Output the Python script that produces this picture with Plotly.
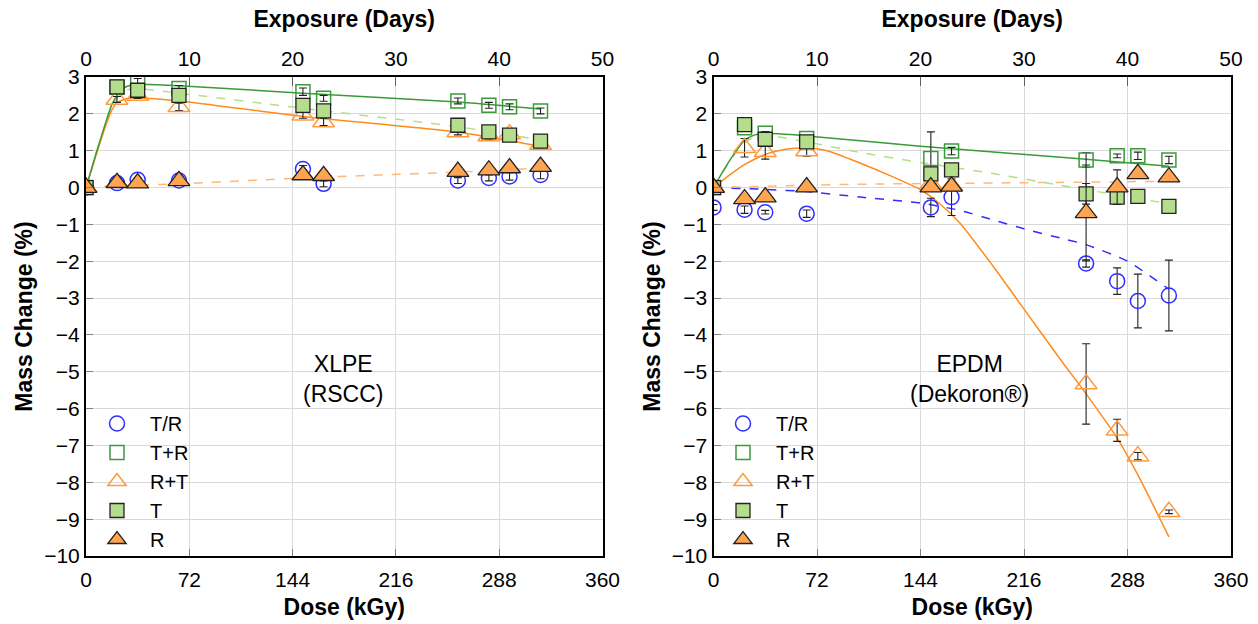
import plotly.graph_objects as go

# Sampling times (days of exposure); dose rate 7.2 kGy per day
days = [0, 3, 5, 9, 21, 23, 36, 39, 41, 44]
DOSE_RATE = 7.2

# ---------------- XLPE (RSCC) ----------------
xlpe_TR = [0, 0.12, 0.21, 0.19, 0.50, 0.10, 0.19, 0.26, 0.30, 0.34]
xlpe_TR_err = [0.03, 0.05, 0.05, 0.05, 0.10, 0.08, 0.08, 0.08, 0.10, 0.10]
xlpe_TpR = [0, 2.72, 2.86, 2.69, 2.60, 2.42, 2.35, 2.23, 2.19, 2.08]
xlpe_TpR_err = [0.03, 0.08, 0.10, 0.08, 0.10, 0.08, 0.08, 0.08, 0.08, 0.08]
xlpe_RpT = [0, 2.39, 2.50, 2.19, 1.96, 1.78, 1.51, 1.40, 1.45, 1.16]
xlpe_RpT_err = [0.03, 0.08, 0.08, 0.10, 0.08, 0.10, 0.08, 0.08, 0.08, 0.08]
xlpe_T = [0, 2.73, 2.64, 2.50, 2.23, 2.08, 1.69, 1.51, 1.42, 1.26]
xlpe_T_err = [0.03, 0.15, 0.15, 0.15, 0.18, 0.15, 0.15, 0.12, 0.12, 0.12]
xlpe_R = [0, 0.13, 0.12, 0.18, 0.34, 0.32, 0.43, 0.47, 0.53, 0.57]
xlpe_R_err = [0.03, 0.08, 0.08, 0.08, 0.08, 0.08, 0.08, 0.08, 0.08, 0.08]

# fitted trend curves (day, value)
xlpe_fit_TpR_days = [0, 1, 2, 2.5, 3, 3.5, 4, 5, 9, 21, 36, 44]
xlpe_fit_TpR = [0, 0.95, 1.85, 2.25, 2.50, 2.67, 2.75, 2.80, 2.76, 2.56, 2.32, 2.13]
xlpe_fit_T_days = [0, 1, 2, 2.5, 3, 3.5, 4, 5, 9, 21, 36, 44]
xlpe_fit_T = [0, 0.92, 1.80, 2.18, 2.42, 2.58, 2.65, 2.68, 2.56, 2.15, 1.65, 1.29]
xlpe_fit_RpT_days = [0, 1, 2, 2.5, 3, 4, 5, 9, 21, 36, 44]
xlpe_fit_RpT = [0, 0.90, 1.75, 2.10, 2.30, 2.42, 2.43, 2.35, 1.93, 1.50, 1.12]
xlpe_fit_R_days = [0, 3, 9, 21, 36, 44]
xlpe_fit_R = [0, 0.05, 0.10, 0.26, 0.42, 0.53]

# ---------------- EPDM (Dekoron) ----------------
epdm_TR = [-0.54, -0.60, -0.67, -0.71, -0.54, -0.26, -2.06, -2.54, -3.08, -2.93]
epdm_TR_err = [0.08, 0.10, 0.05, 0.10, 0.25, 0.50, 0.10, 0.36, 0.73, 0.96]
epdm_TpR = [0, 1.62, 1.47, 1.33, 0.79, 0.99, 0.75, 0.86, 0.86, 0.75]
epdm_TpR_err = [0.03, 0.05, 0.05, 0.05, 0.72, 0.10, 0.20, 0.05, 0.10, 0.10]
epdm_RpT = [0, 1.08, 0.97, 0.99, 0.10, 0.05, -5.33, -6.59, -7.29, -8.80]
epdm_RpT_err = [0.03, 0.25, 0.20, 0.14, 0.10, 0.10, 1.09, 0.30, 0.10, 0.05]
epdm_T = [0, 1.71, 1.31, 1.24, 0.37, 0.48, -0.17, -0.26, -0.24, -0.51]
epdm_T_err = [0.03, 0.10, 0.13, 0.12, 0.15, 0.15, 0.28, 0.12, 0.10, 0.05]
epdm_R = [0, -0.31, -0.26, 0.01, 0.01, 0.03, -0.69, 0.01, 0.37, 0.28]
epdm_R_err = [0.03, 0.10, 0.10, 0.05, 0.10, 0.10, 1.30, 0.47, 0.10, 0.10]

epdm_fit_TpR_days = [0, 1, 2, 3, 4, 5, 9, 20, 35.4, 44]
epdm_fit_TpR = [0, 0.48, 0.92, 1.28, 1.43, 1.47, 1.40, 1.12, 0.78, 0.58]
epdm_fit_T_days = [0, 1, 2, 3, 4, 5, 9, 14.2, 20, 27, 33.5, 44]
epdm_fit_T = [0, 0.46, 0.88, 1.22, 1.38, 1.42, 1.24, 0.95, 0.68, 0.38, 0.06, -0.44]
epdm_fit_RpT_days = [0, 1, 2, 3, 5, 7, 9, 11, 14.2, 17, 20, 21.6, 23.8, 27, 30,
                     33.5, 36, 39, 41, 44]
epdm_fit_RpT = [0, 0.22, 0.43, 0.62, 0.90, 1.04, 1.08, 1.00, 0.66, 0.33, -0.06,
                -0.38, -0.96, -2.13, -3.30, -4.66, -5.60, -6.80, -7.80, -9.48]
epdm_fit_R_days = [0, 9, 14.2, 33.5, 44]
epdm_fit_R = [0, 0.06, 0.09, 0.14, 0.17]
epdm_fit_TR_days = [0, 5, 9, 14.2, 20, 23.8, 27, 30, 33.5, 36, 40, 44]
epdm_fit_TR = [0, -0.05, -0.11, -0.26, -0.42, -0.62, -0.88, -1.12, -1.37, -1.55,
               -2.00, -2.76]

dose_ticks = [0, 72, 144, 216, 288, 360]
day_ticks = [0, 10, 20, 30, 40, 50]

FONT = "Arial, Liberation Sans, sans-serif"
BLUE = "#2f2fff"
GREEN = "#3a9a3a"
LIGHTGREEN = "#b4de8c"
ORANGE = "#ff9a3c"
ORANGE_FILL = "#ffa552"
ORANGE_LINE = "#ff8c1a"
ORANGE_DASH = "#ffb877"


def to_dose(ds):
    return [d * DOSE_RATE for d in ds]


fig = go.Figure()


def add_fit(xs, ys, color, dash, xa, ya, width=1.5):
    fig.add_trace(go.Scatter(
        x=to_dose(xs), y=ys, mode="lines", xaxis=xa, yaxis=ya, showlegend=False,
        line=dict(color=color, width=width, dash=dash, shape="spline", smoothing=0.6),
        hoverinfo="skip"))


def add_series(ys, err, name, symbol, size, color, fill, lw, xa, ya, legend):
    fig.add_trace(go.Scatter(
        x=to_dose(days), y=ys, mode="markers", name=name, xaxis=xa, yaxis=ya,
        legend=legend,
        marker=dict(symbol=symbol, size=size, color=fill,
                    line=dict(color=color, width=lw)),
        error_y=dict(type="data", array=err, visible=True, color="#222222",
                     thickness=1.1, width=4)))


panels = [
    ("x", "y", "legend",
     [(xlpe_fit_R_days, xlpe_fit_R, ORANGE_DASH, "dash"),
      (xlpe_fit_T_days, xlpe_fit_T, LIGHTGREEN, "dash"),
      (xlpe_fit_RpT_days, xlpe_fit_RpT, ORANGE_LINE, "solid"),
      (xlpe_fit_TpR_days, xlpe_fit_TpR, GREEN, "solid")],
     [xlpe_TR, xlpe_TpR, xlpe_RpT, xlpe_T, xlpe_R],
     [xlpe_TR_err, xlpe_TpR_err, xlpe_RpT_err, xlpe_T_err, xlpe_R_err]),
    ("x2", "y2", "legend2",
     [(epdm_fit_TR_days, epdm_fit_TR, BLUE, "dash"),
      (epdm_fit_R_days, epdm_fit_R, ORANGE_DASH, "dash"),
      (epdm_fit_T_days, epdm_fit_T, LIGHTGREEN, "dash"),
      (epdm_fit_RpT_days, epdm_fit_RpT, ORANGE_LINE, "solid"),
      (epdm_fit_TpR_days, epdm_fit_TpR, GREEN, "solid")],
     [epdm_TR, epdm_TpR, epdm_RpT, epdm_T, epdm_R],
     [epdm_TR_err, epdm_TpR_err, epdm_RpT_err, epdm_T_err, epdm_R_err]),
]

styles = [
    ("T/R", "circle-open", 15, BLUE, BLUE, 1.5),
    ("T+R", "square-open", 14, GREEN, GREEN, 1.5),
    ("R+T", "triangle-up-open", 19, ORANGE, ORANGE, 1.5),
    ("T", "square", 14, "#222222", LIGHTGREEN, 1.3),
    ("R", "triangle-up", 19, "#222222", ORANGE_FILL, 1.3),
]

for xa, ya, leg, fits, series, errs in panels:
    for xs, ys, c, d in fits:
        add_fit(xs, ys, c, d, xa, ya)
    for (name, sym, sz, lc, fc, lw), ys, er in zip(styles, series, errs):
        add_series(ys, er, name, sym, sz, lc, fc, lw, xa, ya, leg)

# empty traces so the top "days" axes form their own overlaid subplots
fig.add_trace(go.Scatter(x=[], y=[], xaxis="x3", yaxis="y", showlegend=False))
fig.add_trace(go.Scatter(x=[], y=[], xaxis="x4", yaxis="y2", showlegend=False))

W, H = 1258, 624
ML, MR, MT, MB = 86, 27, 77, 68
PW = W - ML - MR
PH = H - MT - MB
left_dom = [0, (602.5 - ML) / PW]
right_dom = [(713.5 - ML) / PW, 1]

tickfont = dict(family=FONT, size=21, color="black")
titlefont = dict(family=FONT, size=23, color="black", weight="bold")

common_x = dict(range=[0, 360], tickvals=dose_ticks, showgrid=True,
                gridcolor="#d9d9d9", gridwidth=1.3, showline=True, linecolor="black",
                linewidth=2, mirror=True, ticks="inside", ticklen=7,
                tickcolor="#808080", tickfont=tickfont, zeroline=False,
                ticklabelstandoff=4, automargin=False,
                title=dict(text="Dose (kGy)", font=titlefont, standoff=9))
common_top = dict(range=[0, 50], tickvals=day_ticks, side="top", showgrid=False,
                  showline=False, ticks="inside", ticklen=9, tickcolor="#606060",
                  tickfont=tickfont, zeroline=False, ticklabelstandoff=6,
                  automargin=False,
                  title=dict(text="Exposure (Days)", font=titlefont, standoff=12))
common_y = dict(range=[-10, 3], dtick=1, showgrid=True, gridcolor="#d9d9d9",
                gridwidth=1.3, showline=True, linecolor="black", linewidth=2,
                mirror=True, ticks="inside", ticklen=7, tickcolor="#808080",
                tickfont=tickfont, zeroline=False, automargin=False,
                title=dict(text="Mass Change (%)", font=titlefont, standoff=5))

legend_common = dict(font=dict(family=FONT, size=20, color="black"),
                     bgcolor="rgba(0,0,0,0)", borderwidth=0, xanchor="left",
                     yanchor="top", itemwidth=56, tracegroupgap=0)

fig.update_layout(
    width=W, height=H, autosize=False,
    margin=dict(l=ML, r=MR, t=MT, b=MB, autoexpand=False),
    paper_bgcolor="white", plot_bgcolor="white",
    font=dict(family=FONT, color="black"),
    xaxis=dict(domain=left_dom, anchor="y", **common_x),
    xaxis2=dict(domain=right_dom, anchor="y2", **common_x),
    xaxis3=dict(overlaying="x", anchor="y", **common_top),
    xaxis4=dict(overlaying="x2", anchor="y2", **common_top),
    yaxis=dict(domain=[0, 1], anchor="x", **common_y),
    yaxis2=dict(domain=[0, 1], anchor="x2", **common_y),
    legend=dict(x=(84 - ML) / PW, y=(556 - 404) / PH, **legend_common),
    legend2=dict(x=(710 - ML) / PW, y=(556 - 404) / PH, **legend_common),
    annotations=[
        dict(text="XLPE<br>(RSCC)", x=24.9 * DOSE_RATE, y=-5.2, xref="x", yref="y",
             showarrow=False, font=dict(family=FONT, size=23, color="black")),
        dict(text="EPDM<br>(Dekoron®)", x=24.7 * DOSE_RATE, y=-5.2, xref="x2",
             yref="y2", showarrow=False,
             font=dict(family=FONT, size=23, color="black")),
    ],
)

fig.write_html("out.html")
